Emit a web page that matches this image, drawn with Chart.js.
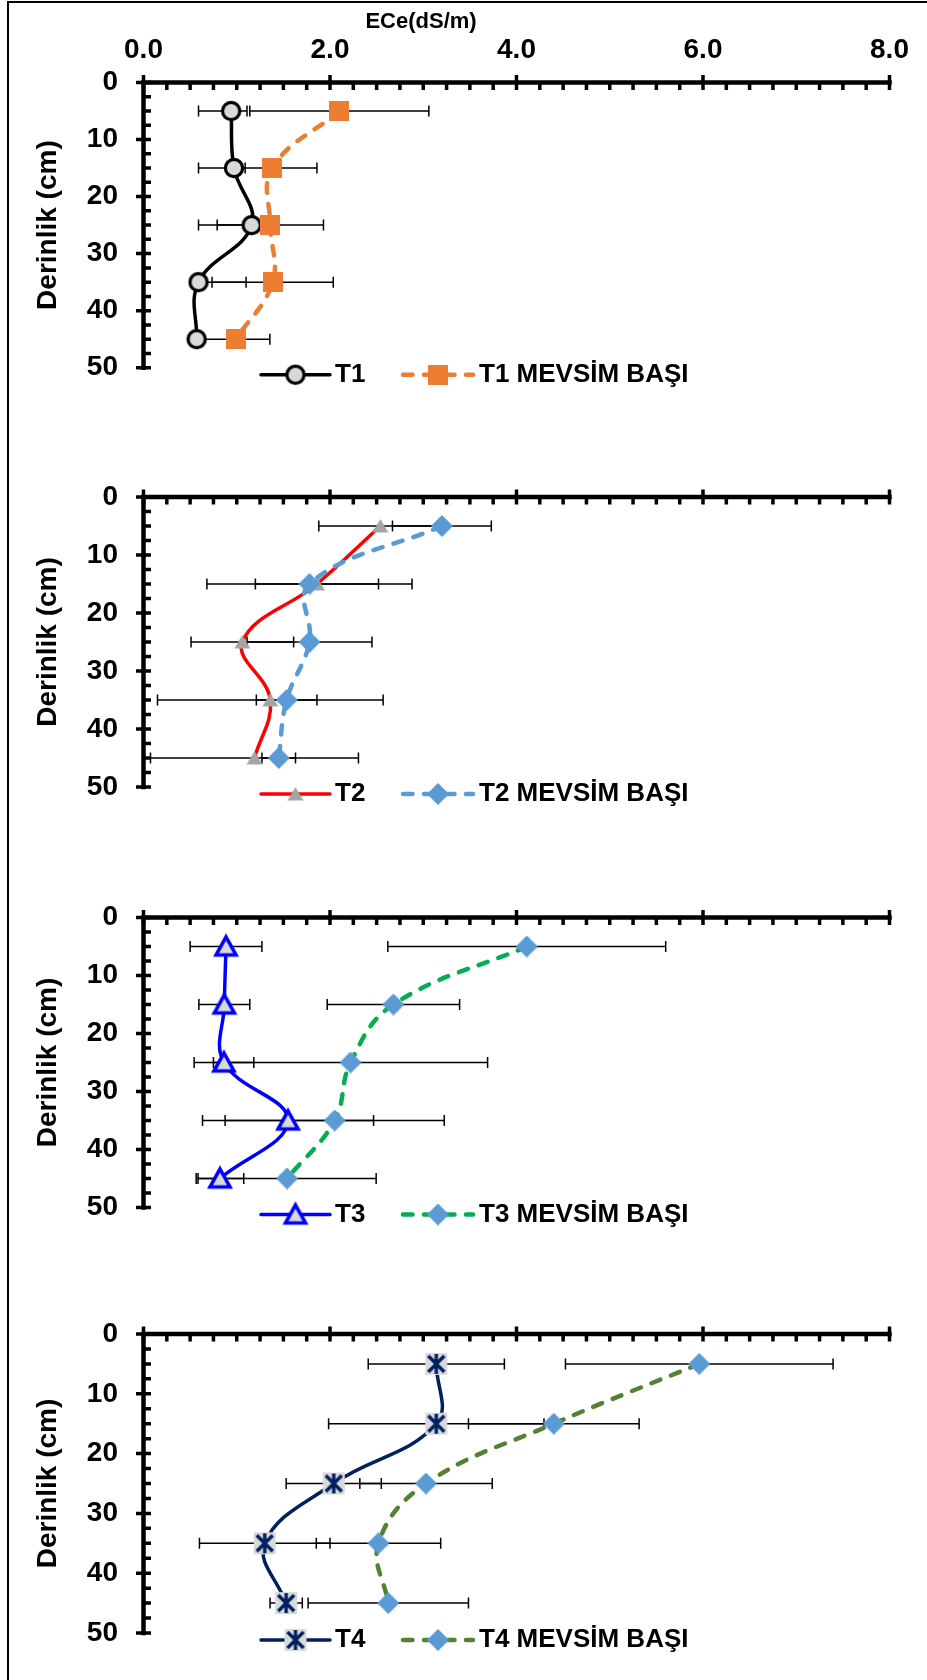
<!DOCTYPE html>
<html lang="tr">
<head>
<meta charset="utf-8">
<title>ECe - Derinlik</title>
<script src="https://cdn.jsdelivr.net/npm/chart.js@4.4.1/dist/chart.umd.min.js"></script>
<style>
  html, body { margin: 0; padding: 0; background: #fff; }
  body { position: relative; width: 927px; height: 1680px; overflow: hidden; }
  #frame { position: absolute; left: 7px; top: 1px; width: 920px; height: 1679px;
           border-left: 2px solid #000; border-top: 2px solid #000; box-sizing: border-box; }
  canvas { position: absolute; left: 0; }
</style>
</head>
<body>
<div id="frame"></div>
<canvas id="p1" width="927" height="410" style="top:0px"></canvas>
<canvas id="p2" width="927" height="420" style="top:410px"></canvas>
<canvas id="p3" width="927" height="420" style="top:830px"></canvas>
<canvas id="p4" width="927" height="430" style="top:1250px"></canvas>
<script>
// Sampling depths (cm) and axis tick labels
const depths = [5, 15, 25, 35, 45];
const eceTickLabels = [0, 2, 4, 6, 8];
const depthTickLabels = [0, 10, 20, 30, 40, 50];

// T1 (end of season) and T1 at season start, ECe in dS/m
const t1 = [0.94, 0.97, 1.16, 0.59, 0.57];
const t1ErrMinus = [0.35, 0.38, 0.57, 0.08, 0.05];
const t1ErrPlus = [0.17, 0.12, 0.20, 0.51, 0.05];
const t1Basi = [2.10, 1.38, 1.36, 1.385, 0.99];
const t1BasiErr = [0.96, 0.48, 0.57, 0.65, 0.365];

// T2
const t2 = [2.54, 1.86, 1.06, 1.36, 1.19];
const t2Err = [0.66, 0.66, 0.55, 1.21, 1.115];
const t2Basi = [3.20, 1.78, 1.78, 1.535, 1.45];
const t2BasiErr = [0.53, 1.10, 0.67, 0.325, 0.18];

// T3
const t3 = [0.885, 0.867, 0.863, 1.55, 0.82];
const t3Err = [0.385, 0.273, 0.32, 0.917, 0.255];
const t3Basi = [4.11, 2.68, 2.22, 2.05, 1.54];
const t3BasiErr = [1.49, 0.71, 1.47, 1.175, 0.955];

// T4
const t4 = [3.14, 3.14, 2.04, 1.30, 1.53];
const t4Err = [0.73, 1.155, 0.51, 0.70, 0.173];
const t4Basi = [5.96, 4.40, 3.03, 2.52, 2.625];
const t4BasiErr = [1.435, 0.915, 0.71, 0.667, 0.86];

const FONT = "'Liberation Sans', Arial, Helvetica, sans-serif";
Chart.defaults.font.family = FONT;
Chart.defaults.color = '#000';

// ---- marker glyphs (used as point styles and in the legend) ----
function glyph(size, paint) {
  const c = document.createElement('canvas');
  c.width = size; c.height = size;
  paint(c.getContext('2d'), size / 2);
  return c;
}
const mCircle = glyph(24, (g, m) => {
  g.beginPath(); g.arc(m, m, 8.6, 0, Math.PI * 2);
  g.fillStyle = '#d9d9d9'; g.fill();
  g.lineWidth = 3.2; g.strokeStyle = '#000'; g.stroke();
});
const mSquare = glyph(20, (g) => { g.fillStyle = '#ed7d31'; g.fillRect(0, 0, 20, 20); });
const mGrayTri = glyph(18, (g, m) => {
  g.beginPath(); g.moveTo(m, m - 7); g.lineTo(m + 8, m + 6.5); g.lineTo(m - 8, m + 6.5); g.closePath();
  g.fillStyle = '#a5a5a5'; g.fill();
});
const mDiamond = glyph(22, (g, m) => {
  g.beginPath(); g.moveTo(m, 0); g.lineTo(2 * m, m); g.lineTo(m, 2 * m); g.lineTo(0, m); g.closePath();
  g.fillStyle = '#5b9bd5'; g.fill();
});
const mBlueTri = glyph(32, (g, m) => {
  g.beginPath(); g.moveTo(m, m - 9.5); g.lineTo(m + 10, m + 8.5); g.lineTo(m - 10, m + 8.5); g.closePath();
  g.fillStyle = '#d9d9d9'; g.fill();
  g.lineWidth = 3.6; g.lineJoin = 'miter'; g.strokeStyle = '#0000ff'; g.stroke();
});
const mStar = glyph(24, (g, m) => {
  g.fillStyle = '#d9d9d9'; g.fillRect(1, 1, 22, 22);
  g.strokeStyle = '#002060'; g.lineWidth = 3.4; g.lineCap = 'butt';
  g.beginPath();
  g.moveTo(m - 8, m - 8); g.lineTo(m + 8, m + 8);
  g.moveTo(m + 8, m - 8); g.lineTo(m - 8, m + 8);
  g.moveTo(m, m - 10); g.lineTo(m, m + 10);
  g.stroke();
});

// ---- drawing helpers ----
const isMajorEce = v => eceTickLabels.some(t => Math.abs(t - v) < 1e-9);
const isMajorDepth = v => depthTickLabels.some(t => Math.abs(t - v) < 1e-9);

// axis lines with crossing major and inside minor tick marks
const axisMarks = {
  id: 'axisMarks',
  beforeDatasetsDraw(chart) {
    const { ctx } = chart;
    const xs = chart.scales.x, ys = chart.scales.y;
    const top = ys.top, bottom = ys.bottom, left = xs.left, right = xs.right;
    ctx.save();
    ctx.strokeStyle = '#000';
    ctx.lineCap = 'butt';
    ctx.lineWidth = 3.5;
    ctx.beginPath();
    xs.ticks.forEach(t => {
      const px = xs.getPixelForValue(t.value);
      ctx.moveTo(px, isMajorEce(t.value) ? top - 7.5 : top);
      ctx.lineTo(px, top + 7.5);
    });
    ys.ticks.forEach(t => {
      const py = ys.getPixelForValue(t.value);
      ctx.moveTo(isMajorDepth(t.value) ? left - 7.5 : left, py);
      ctx.lineTo(left + 7.5, py);
    });
    ctx.stroke();
    ctx.lineWidth = 4.5;
    ctx.lineCap = 'square';
    ctx.beginPath();
    ctx.moveTo(right, top); ctx.lineTo(left, top); ctx.lineTo(left, bottom);
    ctx.stroke();
    ctx.restore();
  }
};

// horizontal error bars from each dataset's errMinus / errPlus
const errorBars = {
  id: 'errorBars',
  beforeDatasetsDraw(chart) {
    const { ctx } = chart;
    const xs = chart.scales.x, ys = chart.scales.y;
    ctx.save();
    ctx.strokeStyle = '#000';
    ctx.lineWidth = 1.5;
    chart.data.datasets.forEach(ds => {
      ds.data.forEach((p, i) => {
        const x1 = xs.getPixelForValue(p.x - ds.errMinus[i]);
        const x2 = xs.getPixelForValue(p.x + ds.errPlus[i]);
        const y = ys.getPixelForValue(p.y);
        ctx.beginPath();
        ctx.moveTo(x1, y); ctx.lineTo(x2, y);
        ctx.moveTo(x1, y - 5.5); ctx.lineTo(x1, y + 5.5);
        ctx.moveTo(x2, y - 5.5); ctx.lineTo(x2, y + 5.5);
        ctx.stroke();
      });
    });
    ctx.restore();
  }
};

// legend row just under the plot: line sample + marker + name
const legendRow = {
  id: 'legendRow',
  afterDraw(chart) {
    const { ctx } = chart;
    const y = chart.chartArea.bottom + 7;
    const slots = [{ x1: 261, x2: 330, tx: 335 }, { x1: 403, x2: 473, tx: 479 }];
    chart.data.datasets.forEach((ds, i) => {
      const s = slots[i];
      ctx.save();
      ctx.strokeStyle = ds.borderColor;
      ctx.lineWidth = ds.borderWidth;
      ctx.lineCap = ds.borderCapStyle || 'butt';
      ctx.setLineDash(ds.borderDash || []);
      ctx.beginPath(); ctx.moveTo(s.x1, y); ctx.lineTo(s.x2, y); ctx.stroke();
      ctx.setLineDash([]);
      const g = ds.pointStyle;
      ctx.drawImage(g, (s.x1 + s.x2) / 2 - g.width / 2, y - g.height / 2);
      ctx.font = 'bold 26px ' + FONT;
      ctx.fillStyle = '#000';
      ctx.textBaseline = 'middle';
      ctx.textAlign = 'left';
      ctx.fillText(ds.label, s.tx, y);
      ctx.restore();
    });
  }
};

// axis title for the ECe scale (first panel only)
const eceTitle = {
  id: 'eceTitle',
  afterDraw(chart, args, opts) {
    if (!opts.show) return;
    const xs = chart.scales.x;
    const { ctx } = chart;
    ctx.save();
    ctx.font = 'bold 22px ' + FONT;
    ctx.fillStyle = '#000';
    ctx.textAlign = 'center';
    ctx.textBaseline = 'middle';
    ctx.fillText('ECe(dS/m)', xs.left + 0.372 * (xs.right - xs.left), 22);
    ctx.restore();
  }
};

function series(label, values, errMinus, errPlus, look) {
  return Object.assign({
    label,
    data: depths.map((d, i) => ({ x: values[i], y: d })),
    errMinus, errPlus,
    fill: false,
    tension: 0.4,
    borderJoinStyle: 'round',
    pointRadius: 10,
    pointHoverRadius: 10
  }, look);
}
const solid = (color, glyphCanvas) => ({
  borderColor: color, borderWidth: 3.5, borderCapStyle: 'round', pointStyle: glyphCanvas, order: 1
});
const dashed = (color, glyphCanvas) => ({
  borderColor: color, borderWidth: 4.5, borderDash: [9.5, 11.5], borderCapStyle: 'round',
  pointStyle: glyphCanvas, order: 0
});

// panel placement on the page (px)
const panels = [
  { id: 'p1', canvasTop: 0,    canvasH: 410, plotTop: 82.5,  plotBottom: 373,    labels: true,
    sets: [series('T1', t1, t1ErrMinus, t1ErrPlus, solid('#000000', mCircle)),
           series('T1 MEVSİM BAŞI', t1Basi, t1BasiErr, t1BasiErr, dashed('#ed7d31', mSquare))] },
  { id: 'p2', canvasTop: 410,  canvasH: 420, plotTop: 497,   plotBottom: 787,    labels: false,
    sets: [series('T2', t2, t2Err, t2Err, solid('#ff0000', mGrayTri)),
           series('T2 MEVSİM BAŞI', t2Basi, t2BasiErr, t2BasiErr, dashed('#5b9bd5', mDiamond))] },
  { id: 'p3', canvasTop: 830,  canvasH: 420, plotTop: 917.5, plotBottom: 1207.5, labels: false,
    sets: [series('T3', t3, t3Err, t3Err, solid('#0000ff', mBlueTri)),
           series('T3 MEVSİM BAŞI', t3Basi, t3BasiErr, t3BasiErr, dashed('#00b050', mDiamond))] },
  { id: 'p4', canvasTop: 1250, canvasH: 430, plotTop: 1334,  plotBottom: 1633,   labels: false,
    sets: [series('T4', t4, t4Err, t4Err, solid('#002060', mStar)),
           series('T4 MEVSİM BAŞI', t4Basi, t4BasiErr, t4BasiErr, dashed('#548235', mDiamond))] }
];

panels.forEach(p => {
  const topBand = p.plotTop - p.canvasTop;
  new Chart(document.getElementById(p.id), {
    type: 'line',
    data: { datasets: p.sets },
    options: {
      responsive: false,
      animation: false,
      events: [],
      layout: { padding: { top: 0, left: 0, right: 927 - 889.5, bottom: p.canvasTop + p.canvasH - p.plotBottom } },
      plugins: {
        legend: { display: false },
        tooltip: { enabled: false },
        eceTitle: { show: p.labels }
      },
      scales: {
        x: {
          type: 'linear', position: 'top', min: 0, max: 8,
          grid: { display: false, drawTicks: false },
          border: { display: false },
          ticks: {
            display: p.labels, stepSize: 0.25, autoSkip: false, maxRotation: 0, padding: 15,
            font: { size: 28, weight: 'bold' }, color: '#000',
            callback: v => isMajorEce(v) ? v.toFixed(1) : ''
          },
          afterFit(s) { s.height = topBand; }
        },
        y: {
          type: 'linear', min: 0, max: 50, reverse: true,
          grid: { display: false, drawTicks: false },
          border: { display: false },
          ticks: {
            stepSize: 2.5, autoSkip: false, padding: 25.5,
            font: { size: 28, weight: 'bold' }, color: '#000',
            callback: v => isMajorDepth(v) ? String(v) : ''
          },
          title: {
            display: true, text: 'Derinlik (cm)', color: '#000',
            font: { size: 28, weight: 'bold' }, padding: { top: 31, bottom: 0 }
          },
          afterFit(s) { s.width = 143.5; }
        }
      }
    },
    plugins: [axisMarks, errorBars, legendRow, eceTitle]
  });
});
</script>
</body>
</html>
